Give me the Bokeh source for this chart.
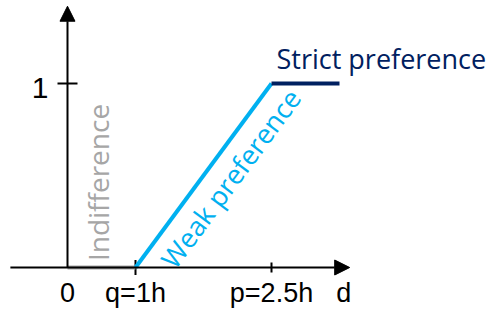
import math
from bokeh.plotting import figure
from bokeh.models import Range1d, Arrow, NormalHead
from bokeh.core.properties import value
from bokeh.embed import file_html
from bokeh.resources import INLINE

# ---- data (schematic positions on the d axis) ----
tick_pos = [0, 1, 3]
tick_labels = ["0", "q=1h", "p=2.5h"]
tick_sizes = [0, 15, 10]
y_tick_pos = [1]
y_tick_labels = ["1"]
indiff_x = [0, 1]
indiff_y = [0, 0]
weak_x = [1, 3]
weak_y = [0, 1]
strict_x = [3, 4]
strict_y = [1, 1]
x_axis_ext = [-0.84, 4.15]
y_axis_ext = [0, 1.42]
x_axis_label = "d"

W, H = 494, 311
xr = (-0.98529, 6.2794)
yr = (-0.23913, 1.45109)
p = figure(width=W, height=H, x_range=Range1d(*xr), y_range=Range1d(*yr),
           output_backend="svg", toolbar_location=None, min_border=0,
           x_axis_type=None, y_axis_type=None, outline_line_color=None)
p.grid.visible = False

GRAY = "#A6A6A6"
BLUE = "#00B0F0"
NAVY = "#002060"
LAB_FONT = value("Liberation Sans")
TXT_FONT = value("Open Sans")

# axes with arrows
p.add_layout(Arrow(x_start=x_axis_ext[0], y_start=0, x_end=x_axis_ext[1], y_end=0,
                   line_width=2, line_color="black",
                   end=NormalHead(size=15, fill_color="black", line_color="black")))
p.add_layout(Arrow(x_start=0, y_start=y_axis_ext[0], x_end=0, y_end=y_axis_ext[1],
                   line_width=2, line_color="black",
                   end=NormalHead(size=15, fill_color="black", line_color="black")))

# ticks
p.scatter(tick_pos[1:], [0] * 2, marker="dash", angle=math.pi / 2, size=tick_sizes[1:],
          line_color="black", line_width=2)
p.scatter([0], y_tick_pos, marker="dash", size=20, line_color="black", line_width=2)

# curve segments
p.line(indiff_x, indiff_y, line_color=GRAY, line_width=4)
p.line(weak_x, weak_y, line_color=BLUE, line_width=4)
p.line(strict_x, strict_y, line_color=NAVY, line_width=4)

# tick labels
p.text(tick_pos, [0] * 3, text=tick_labels, text_align="center", text_baseline="alphabetic",
       y_offset=25, text_font=LAB_FONT, text_font_size="27px", text_color="black")
p.text([0], y_tick_pos, text=y_tick_labels, text_align="right", text_baseline="alphabetic",
       x_offset=-19, y_offset=4, text_font=LAB_FONT, text_font_size="30px", text_color="black")
p.text([x_axis_ext[1]], [0], text=[x_axis_label], text_align="center", text_baseline="alphabetic",
       x_offset=-6, y_offset=25, text_font=LAB_FONT, text_font_size="27px", text_color="black")

# region labels
sx = W / (xr[1] - xr[0])
sy = H / (yr[1] - yr[0])
ang = math.atan2((weak_y[1] - weak_y[0]) * sy, (weak_x[1] - weak_x[0]) * sx)

p.text([(indiff_x[0] + indiff_x[1]) / 2], [0], text=["Indifference"], angle=math.pi / 2,
       text_align="center", text_baseline="alphabetic", x_offset=-3, y_offset=-85,
       text_font=TXT_FONT, text_font_size="28px", text_color=GRAY)
p.text([(weak_x[0] + weak_x[1]) / 2], [(weak_y[0] + weak_y[1]) / 2], text=["Weak preference"],
       angle=ang, text_align="center", text_baseline="alphabetic", x_offset=27, y_offset=3,
       text_font=TXT_FONT, text_font_size="27px", text_color=BLUE)
p.text([strict_x[0]], [strict_y[0]], text=["Strict preference"], text_align="left",
       text_baseline="alphabetic", x_offset=5, y_offset=-25,
       text_font=TXT_FONT, text_font_size="27px", text_color=NAVY)

open("out.html", "w").write(file_html(p, INLINE))
